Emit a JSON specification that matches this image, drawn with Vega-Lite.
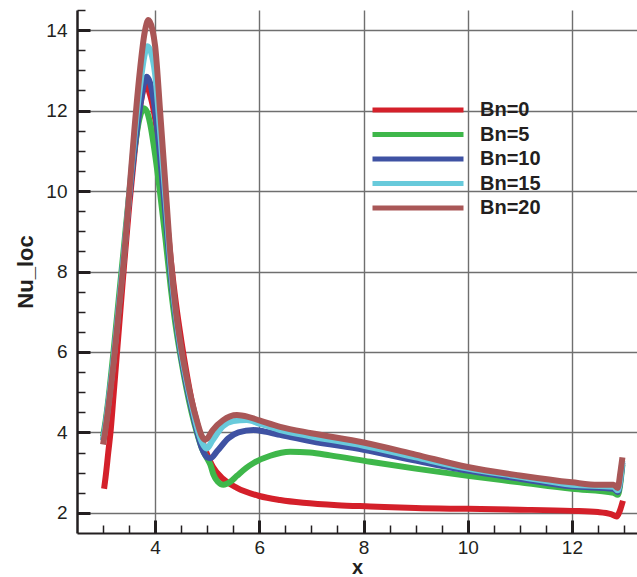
{
  "$schema": "https://vega.github.io/schema/vega-lite/v6.json",
  "width": 560,
  "height": 523,
  "autosize": "none",
  "padding": {"left": 77, "top": 10, "right": 0, "bottom": 44},
  "background": "white",
  "config": {
    "view": {"stroke": null},
    "font": "Liberation Sans"
  },
  "data": {
    "values": [
      {"series": "Bn=0", "x": 3.02, "y": 2.6},
      {"series": "Bn=0", "x": 3.05, "y": 2.9},
      {"series": "Bn=0", "x": 3.1, "y": 3.5},
      {"series": "Bn=0", "x": 3.15, "y": 4.1},
      {"series": "Bn=0", "x": 3.2, "y": 4.9},
      {"series": "Bn=0", "x": 3.3, "y": 6.5},
      {"series": "Bn=0", "x": 3.4, "y": 8.1},
      {"series": "Bn=0", "x": 3.5, "y": 9.6},
      {"series": "Bn=0", "x": 3.6, "y": 10.9},
      {"series": "Bn=0", "x": 3.7, "y": 12.0},
      {"series": "Bn=0", "x": 3.8, "y": 12.6},
      {"series": "Bn=0", "x": 3.83, "y": 12.63},
      {"series": "Bn=0", "x": 3.9, "y": 12.4},
      {"series": "Bn=0", "x": 4.0, "y": 11.8},
      {"series": "Bn=0", "x": 4.1, "y": 10.8},
      {"series": "Bn=0", "x": 4.2, "y": 9.6},
      {"series": "Bn=0", "x": 4.3, "y": 8.3},
      {"series": "Bn=0", "x": 4.4, "y": 7.2},
      {"series": "Bn=0", "x": 4.5, "y": 6.3},
      {"series": "Bn=0", "x": 4.6, "y": 5.5},
      {"series": "Bn=0", "x": 4.7, "y": 4.8},
      {"series": "Bn=0", "x": 4.8, "y": 4.25},
      {"series": "Bn=0", "x": 4.9, "y": 3.8},
      {"series": "Bn=0", "x": 5.0, "y": 3.45},
      {"series": "Bn=0", "x": 5.11, "y": 3.14},
      {"series": "Bn=0", "x": 5.3, "y": 2.85},
      {"series": "Bn=0", "x": 5.57, "y": 2.62},
      {"series": "Bn=0", "x": 6.0, "y": 2.42},
      {"series": "Bn=0", "x": 6.4, "y": 2.32},
      {"series": "Bn=0", "x": 6.84, "y": 2.25},
      {"series": "Bn=0", "x": 7.5, "y": 2.19},
      {"series": "Bn=0", "x": 8.13, "y": 2.16},
      {"series": "Bn=0", "x": 9.0, "y": 2.12},
      {"series": "Bn=0", "x": 10.0, "y": 2.1},
      {"series": "Bn=0", "x": 11.0, "y": 2.08},
      {"series": "Bn=0", "x": 12.0, "y": 2.05},
      {"series": "Bn=0", "x": 12.5, "y": 2.02},
      {"series": "Bn=0", "x": 12.75, "y": 1.97},
      {"series": "Bn=0", "x": 12.86, "y": 1.91},
      {"series": "Bn=0", "x": 12.92, "y": 2.05},
      {"series": "Bn=0", "x": 12.98, "y": 2.3},

      {"series": "Bn=5", "x": 3.0, "y": 3.9},
      {"series": "Bn=5", "x": 3.05, "y": 4.3},
      {"series": "Bn=5", "x": 3.1, "y": 4.8},
      {"series": "Bn=5", "x": 3.2, "y": 6.0},
      {"series": "Bn=5", "x": 3.3, "y": 7.3},
      {"series": "Bn=5", "x": 3.4, "y": 8.6},
      {"series": "Bn=5", "x": 3.5, "y": 9.9},
      {"series": "Bn=5", "x": 3.6, "y": 11.0},
      {"series": "Bn=5", "x": 3.7, "y": 11.8},
      {"series": "Bn=5", "x": 3.78, "y": 12.06},
      {"series": "Bn=5", "x": 3.85, "y": 11.95},
      {"series": "Bn=5", "x": 3.9, "y": 11.7},
      {"series": "Bn=5", "x": 4.0, "y": 10.9},
      {"series": "Bn=5", "x": 4.1, "y": 9.9},
      {"series": "Bn=5", "x": 4.2, "y": 8.8},
      {"series": "Bn=5", "x": 4.3, "y": 7.6},
      {"series": "Bn=5", "x": 4.4, "y": 6.6},
      {"series": "Bn=5", "x": 4.5, "y": 5.8},
      {"series": "Bn=5", "x": 4.6, "y": 5.1},
      {"series": "Bn=5", "x": 4.7, "y": 4.5},
      {"series": "Bn=5", "x": 4.8, "y": 4.0},
      {"series": "Bn=5", "x": 4.9, "y": 3.6},
      {"series": "Bn=5", "x": 5.0, "y": 3.35},
      {"series": "Bn=5", "x": 5.06, "y": 3.2},
      {"series": "Bn=5", "x": 5.12, "y": 2.95},
      {"series": "Bn=5", "x": 5.2, "y": 2.78},
      {"series": "Bn=5", "x": 5.31, "y": 2.7},
      {"series": "Bn=5", "x": 5.45, "y": 2.78},
      {"series": "Bn=5", "x": 5.57, "y": 2.92},
      {"series": "Bn=5", "x": 5.75, "y": 3.12},
      {"series": "Bn=5", "x": 5.89, "y": 3.24},
      {"series": "Bn=5", "x": 6.21, "y": 3.42},
      {"series": "Bn=5", "x": 6.59, "y": 3.52},
      {"series": "Bn=5", "x": 6.97, "y": 3.5},
      {"series": "Bn=5", "x": 7.36, "y": 3.43},
      {"series": "Bn=5", "x": 8.13, "y": 3.27},
      {"series": "Bn=5", "x": 9.0, "y": 3.1},
      {"series": "Bn=5", "x": 10.0, "y": 2.92},
      {"series": "Bn=5", "x": 11.0, "y": 2.76},
      {"series": "Bn=5", "x": 12.0, "y": 2.6},
      {"series": "Bn=5", "x": 12.8, "y": 2.5},
      {"series": "Bn=5", "x": 12.88, "y": 2.45},
      {"series": "Bn=5", "x": 12.97, "y": 3.2},

      {"series": "Bn=10", "x": 3.0, "y": 3.8},
      {"series": "Bn=10", "x": 3.05, "y": 4.2},
      {"series": "Bn=10", "x": 3.1, "y": 4.7},
      {"series": "Bn=10", "x": 3.2, "y": 5.8},
      {"series": "Bn=10", "x": 3.3, "y": 7.1},
      {"series": "Bn=10", "x": 3.4, "y": 8.4},
      {"series": "Bn=10", "x": 3.5, "y": 9.8},
      {"series": "Bn=10", "x": 3.6, "y": 11.0},
      {"series": "Bn=10", "x": 3.7, "y": 12.0},
      {"series": "Bn=10", "x": 3.8, "y": 12.75},
      {"series": "Bn=10", "x": 3.84, "y": 12.84},
      {"series": "Bn=10", "x": 3.9, "y": 12.7},
      {"series": "Bn=10", "x": 4.0, "y": 12.0},
      {"series": "Bn=10", "x": 4.1, "y": 10.8},
      {"series": "Bn=10", "x": 4.2, "y": 9.4},
      {"series": "Bn=10", "x": 4.3, "y": 7.9},
      {"series": "Bn=10", "x": 4.4, "y": 6.8},
      {"series": "Bn=10", "x": 4.5, "y": 5.9},
      {"series": "Bn=10", "x": 4.6, "y": 5.2},
      {"series": "Bn=10", "x": 4.7, "y": 4.6},
      {"series": "Bn=10", "x": 4.8, "y": 4.05},
      {"series": "Bn=10", "x": 4.9, "y": 3.6},
      {"series": "Bn=10", "x": 5.0, "y": 3.38},
      {"series": "Bn=10", "x": 5.06, "y": 3.36},
      {"series": "Bn=10", "x": 5.2, "y": 3.55},
      {"series": "Bn=10", "x": 5.4, "y": 3.85},
      {"series": "Bn=10", "x": 5.6, "y": 4.0},
      {"series": "Bn=10", "x": 5.89, "y": 4.06},
      {"series": "Bn=10", "x": 6.1, "y": 4.02},
      {"series": "Bn=10", "x": 6.4, "y": 3.94},
      {"series": "Bn=10", "x": 7.0, "y": 3.78},
      {"series": "Bn=10", "x": 8.0, "y": 3.57},
      {"series": "Bn=10", "x": 9.0, "y": 3.3},
      {"series": "Bn=10", "x": 10.0, "y": 3.05},
      {"series": "Bn=10", "x": 11.0, "y": 2.85},
      {"series": "Bn=10", "x": 12.0, "y": 2.66},
      {"series": "Bn=10", "x": 12.8, "y": 2.6},
      {"series": "Bn=10", "x": 12.88, "y": 2.52},
      {"series": "Bn=10", "x": 12.97, "y": 3.25},

      {"series": "Bn=15", "x": 3.0, "y": 3.8},
      {"series": "Bn=15", "x": 3.05, "y": 4.2},
      {"series": "Bn=15", "x": 3.1, "y": 4.7},
      {"series": "Bn=15", "x": 3.2, "y": 5.8},
      {"series": "Bn=15", "x": 3.3, "y": 7.1},
      {"series": "Bn=15", "x": 3.4, "y": 8.4},
      {"series": "Bn=15", "x": 3.5, "y": 9.9},
      {"series": "Bn=15", "x": 3.6, "y": 11.3},
      {"series": "Bn=15", "x": 3.7, "y": 12.5},
      {"series": "Bn=15", "x": 3.8, "y": 13.4},
      {"series": "Bn=15", "x": 3.85, "y": 13.6},
      {"series": "Bn=15", "x": 3.92, "y": 13.45},
      {"series": "Bn=15", "x": 4.0, "y": 12.9},
      {"series": "Bn=15", "x": 4.1, "y": 11.4},
      {"series": "Bn=15", "x": 4.2, "y": 9.8},
      {"series": "Bn=15", "x": 4.3, "y": 8.1},
      {"series": "Bn=15", "x": 4.4, "y": 6.9},
      {"series": "Bn=15", "x": 4.5, "y": 6.0},
      {"series": "Bn=15", "x": 4.6, "y": 5.3},
      {"series": "Bn=15", "x": 4.7, "y": 4.7},
      {"series": "Bn=15", "x": 4.8, "y": 4.15},
      {"series": "Bn=15", "x": 4.9, "y": 3.75},
      {"series": "Bn=15", "x": 4.99, "y": 3.6},
      {"series": "Bn=15", "x": 5.1, "y": 3.8},
      {"series": "Bn=15", "x": 5.3, "y": 4.15},
      {"series": "Bn=15", "x": 5.5, "y": 4.28},
      {"series": "Bn=15", "x": 5.76, "y": 4.31},
      {"series": "Bn=15", "x": 6.0, "y": 4.22},
      {"series": "Bn=15", "x": 6.4, "y": 4.06},
      {"series": "Bn=15", "x": 7.0, "y": 3.9},
      {"series": "Bn=15", "x": 8.0, "y": 3.67},
      {"series": "Bn=15", "x": 9.0, "y": 3.38},
      {"series": "Bn=15", "x": 10.0, "y": 3.1},
      {"series": "Bn=15", "x": 11.0, "y": 2.9},
      {"series": "Bn=15", "x": 12.0, "y": 2.7},
      {"series": "Bn=15", "x": 12.8, "y": 2.65},
      {"series": "Bn=15", "x": 12.88, "y": 2.56},
      {"series": "Bn=15", "x": 12.97, "y": 3.3},

      {"series": "Bn=20", "x": 3.0, "y": 3.7},
      {"series": "Bn=20", "x": 3.05, "y": 4.1},
      {"series": "Bn=20", "x": 3.1, "y": 4.6},
      {"series": "Bn=20", "x": 3.2, "y": 5.7},
      {"series": "Bn=20", "x": 3.3, "y": 7.0},
      {"series": "Bn=20", "x": 3.4, "y": 8.3},
      {"series": "Bn=20", "x": 3.5, "y": 9.9},
      {"series": "Bn=20", "x": 3.6, "y": 11.5},
      {"series": "Bn=20", "x": 3.7, "y": 12.9},
      {"series": "Bn=20", "x": 3.8, "y": 13.95},
      {"series": "Bn=20", "x": 3.87, "y": 14.25},
      {"series": "Bn=20", "x": 3.95, "y": 14.0},
      {"series": "Bn=20", "x": 4.0, "y": 13.6},
      {"series": "Bn=20", "x": 4.1, "y": 11.9},
      {"series": "Bn=20", "x": 4.2, "y": 10.1},
      {"series": "Bn=20", "x": 4.3, "y": 8.3},
      {"series": "Bn=20", "x": 4.4, "y": 7.0},
      {"series": "Bn=20", "x": 4.5, "y": 6.1},
      {"series": "Bn=20", "x": 4.6, "y": 5.4},
      {"series": "Bn=20", "x": 4.7, "y": 4.8},
      {"series": "Bn=20", "x": 4.8, "y": 4.3},
      {"series": "Bn=20", "x": 4.9, "y": 3.9},
      {"series": "Bn=20", "x": 4.95, "y": 3.82},
      {"series": "Bn=20", "x": 5.0, "y": 3.85},
      {"series": "Bn=20", "x": 5.1, "y": 4.05},
      {"series": "Bn=20", "x": 5.3, "y": 4.3},
      {"series": "Bn=20", "x": 5.57, "y": 4.43},
      {"series": "Bn=20", "x": 5.8, "y": 4.38},
      {"series": "Bn=20", "x": 6.0, "y": 4.3},
      {"series": "Bn=20", "x": 6.4, "y": 4.14},
      {"series": "Bn=20", "x": 7.0, "y": 3.98},
      {"series": "Bn=20", "x": 8.0, "y": 3.75},
      {"series": "Bn=20", "x": 9.0, "y": 3.45},
      {"series": "Bn=20", "x": 10.0, "y": 3.14},
      {"series": "Bn=20", "x": 11.0, "y": 2.93},
      {"series": "Bn=20", "x": 12.0, "y": 2.76},
      {"series": "Bn=20", "x": 12.5, "y": 2.7},
      {"series": "Bn=20", "x": 12.8, "y": 2.7},
      {"series": "Bn=20", "x": 12.88, "y": 2.62},
      {"series": "Bn=20", "x": 12.93, "y": 3.0},
      {"series": "Bn=20", "x": 12.97, "y": 3.38}
    ]
  },
  "resolve": {"axis": {"x": "independent", "y": "independent"}},
  "layer": [
    {
      "mark": {"type": "point", "opacity": 0, "size": 0},
      "encoding": {
        "x": {
          "field": "x",
          "type": "quantitative",
          "scale": {"domain": [2.5, 13.25], "nice": false, "zero": false},
          "axis": {
            "orient": "bottom",
            "title": null,
            "values": [3, 3.5, 4.5, 5, 5.5, 6.5, 7, 7.5, 8.5, 9, 9.5, 10.5, 11, 11.5, 12.5, 13],
            "labels": false,
            "domain": false,
            "grid": false,
            "tickColor": "#231f20",
            "tickSize": -8,
            "tickWidth": 1.5
          }
        },
        "y": {
          "field": "y",
          "type": "quantitative",
          "scale": {"domain": [1.5, 14.5], "nice": false, "zero": false},
          "axis": {
            "orient": "left",
            "title": null,
            "values": [2.5, 3, 3.5, 4.5, 5, 5.5, 6.5, 7, 7.5, 8.5, 9, 9.5, 10.5, 11, 11.5, 12.5, 13, 13.5, 14.5],
            "labels": false,
            "domain": false,
            "grid": false,
            "tickColor": "#231f20",
            "tickSize": -8,
            "tickWidth": 1.5
          }
        }
      }
    },
    {
      "mark": {"type": "line", "strokeWidth": 6, "interpolate": "monotone", "clip": true},
      "encoding": {
        "x": {
          "field": "x",
          "type": "quantitative",
          "scale": {"domain": [2.5, 13.25], "nice": false, "zero": false},
          "axis": {
            "orient": "bottom",
            "title": "x",
            "titleFontSize": 20,
            "titleFontWeight": "bold",
            "titleColor": "#231f20",
            "titlePadding": 0,
            "values": [4, 6, 8, 10, 12],
            "labelFontSize": 19,
            "labelColor": "#231f20",
            "labelPadding": 18,
            "labelFlush": false,
            "domainColor": "#231f20",
            "domainWidth": 2,
            "tickColor": "#231f20",
            "tickSize": -13,
            "tickWidth": 3,
            "grid": true,
            "gridColor": "#6f6f6f",
            "gridWidth": 1.4
          }
        },
        "y": {
          "field": "y",
          "type": "quantitative",
          "scale": {"domain": [1.5, 14.5], "nice": false, "zero": false},
          "axis": {
            "orient": "left",
            "title": "Nu_loc",
            "titleFontSize": 22,
            "titleFontWeight": "bold",
            "titleColor": "#231f20",
            "titlePadding": 8,
            "values": [2, 4, 6, 8, 10, 12, 14],
            "labelFontSize": 19,
            "labelColor": "#231f20",
            "labelPadding": 23,
            "labelFlush": false,
            "domainColor": "#231f20",
            "domainWidth": 2.5,
            "tickColor": "#231f20",
            "tickSize": -13,
            "tickWidth": 3,
            "grid": true,
            "gridColor": "#6f6f6f",
            "gridWidth": 1.4
          }
        },
        "color": {
          "field": "series",
          "type": "nominal",
          "sort": ["Bn=0", "Bn=5", "Bn=10", "Bn=15", "Bn=20"],
          "scale": {
            "domain": ["Bn=0", "Bn=5", "Bn=10", "Bn=15", "Bn=20"],
            "range": ["#d4202a", "#3eb74a", "#3f52a3", "#68cadb", "#a95757"]
          },
          "legend": {
            "orient": "none",
            "legendX": 292,
            "legendY": 90,
            "title": null,
            "symbolType": "M-1,0H13",
            "symbolSize": 169,
            "symbolStrokeWidth": 5,
            "labelFontSize": 20,
            "labelFontWeight": "bold",
            "labelColor": "#231f20",
            "labelOffset": 91,
            "rowPadding": 4.5
          }
        },
        "order": {"field": "series", "sort": "ascending"}
      }
    }
  ]
}
